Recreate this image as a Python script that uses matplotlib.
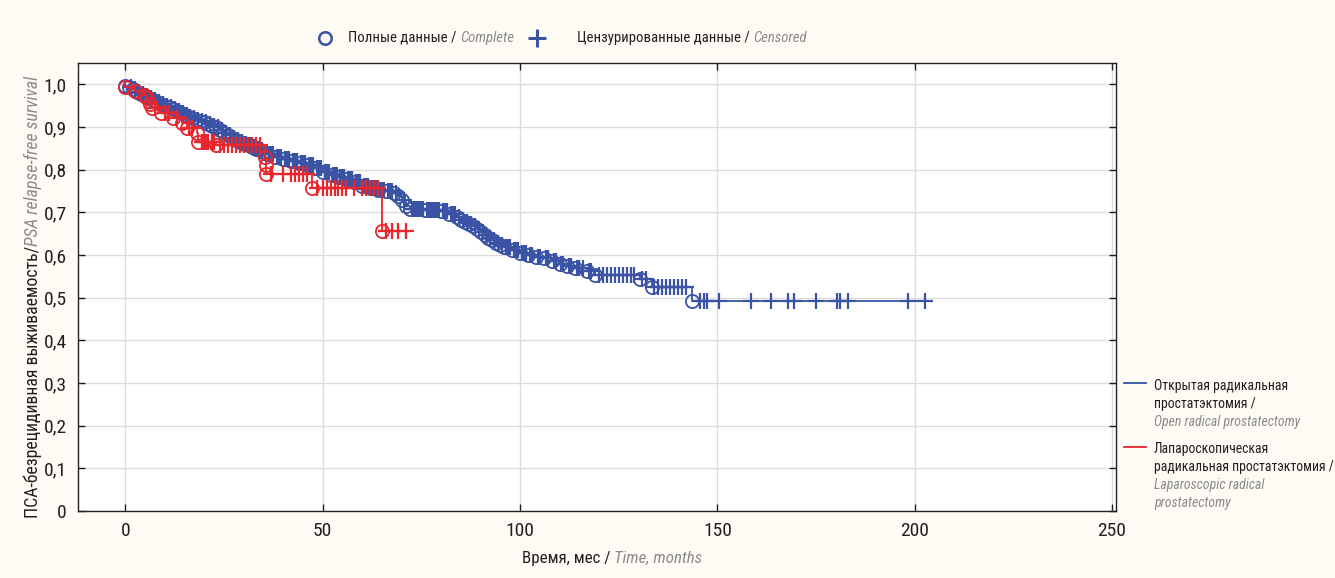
import numpy as np
import matplotlib
matplotlib.use("Agg")
import matplotlib.pyplot as plt
from matplotlib import font_manager as fm

# ---------------- data ----------------
open_event_t = [0, 1, 2, 3, 4, 5, 6, 7, 8, 9, 10, 11, 12, 13, 14, 15, 16, 17, 18, 19,
                20, 21, 22, 23, 24, 25, 26, 27, 28, 29, 30, 31, 32, 33, 34, 35, 36, 38,
                40, 42, 44, 46, 48, 50, 52, 54, 56, 58, 60, 62, 64, 66, 68, 69, 70, 71,
                72, 76, 80, 82, 84, 85, 86, 87, 88, 89, 90, 91, 92, 93, 94, 95, 96, 98,
                100, 102, 104, 106, 108, 110, 112, 114, 117, 119, 130.5, 133.5, 143.5]
open_event_s = [0.997, 0.993, 0.988, 0.983, 0.978, 0.973, 0.968, 0.963, 0.958, 0.954,
                0.950, 0.946, 0.942, 0.937, 0.932, 0.928, 0.924, 0.920, 0.917, 0.914,
                0.911, 0.907, 0.903, 0.899, 0.893, 0.887, 0.881, 0.875, 0.870, 0.865,
                0.861, 0.857, 0.853, 0.849, 0.845, 0.841, 0.836, 0.830, 0.825, 0.820,
                0.816, 0.811, 0.803, 0.795, 0.788, 0.783, 0.778, 0.770, 0.762, 0.757,
                0.752, 0.749, 0.745, 0.738, 0.728, 0.716, 0.708, 0.705, 0.702, 0.697,
                0.688, 0.682, 0.677, 0.672, 0.667, 0.661, 0.655, 0.647, 0.640, 0.634,
                0.628, 0.623, 0.618, 0.612, 0.605, 0.600, 0.596, 0.592, 0.587, 0.580,
                0.574, 0.570, 0.562, 0.553, 0.543, 0.524, 0.493]
open_censor_t = [1.5, 2.5, 3.5, 4.5, 5.5, 6.5, 7.5, 8.5, 9.5, 10.5, 11.5, 12.5, 13.5, 14.5,
                 15.5, 16.5, 17.5, 18.5, 19.5, 20.5, 21.5, 22.5, 23.5, 24.5, 25.5, 26.5,
                 27.5, 28.5, 29.5, 30.5, 31.5, 32.5, 33.5, 34.5, 35.5, 36.5, 37, 37.5,
                 38.5, 39, 39.5, 40.5, 41, 41.5, 42.5, 43, 43.5, 44.5, 45, 45.5, 46.5, 47,
                 47.5, 48.5, 49, 49.5, 50.5, 51, 51.5, 52.5, 53, 53.5, 54.5, 55, 55.5,
                 56.5, 57, 57.5, 58.5, 59, 59.5, 60.5, 61, 61.5, 62.5, 63, 63.5, 64.5, 65,
                 65.5, 66.5, 67, 67.5, 68.5, 70.5, 72.5, 73, 73.5, 74, 74.5, 75, 75.5,
                 76.5, 77, 77.5, 78, 78.5, 79, 79.5, 80.5, 81, 81.5, 82.5, 83, 83.5, 84.5,
                 85.5, 86.5, 87.5, 88.5, 89.5, 90.5, 91.5, 92.5, 93.5, 94.5, 95.5, 96.5,
                 97, 97.5, 98.5, 99, 99.5, 100.5, 101, 101.5, 102.5, 103, 104.5, 105,
                 106.5, 107, 108.5, 109, 110.5, 111, 112.5, 113, 114.5, 115, 116, 117.5,
                 118, 120, 121, 122, 123, 124, 125, 126, 127, 128, 129, 131, 132, 134,
                 135, 136, 137, 138, 139, 140, 141, 142, 145.7, 146.5, 147.3, 150.5,
                 158.6, 163.7, 168, 169.5, 175, 180.2, 181, 183, 198.4, 202.7]

lap_event_t = [0, 2.5, 4.6, 5.5, 6.3, 6.8, 9, 12, 14.4, 15.7, 18.2, 18.5, 23, 35.5, 35.6,
               35.7, 47.4, 65]
lap_event_s = [0.993, 0.985, 0.975, 0.967, 0.955, 0.945, 0.933, 0.922, 0.909, 0.897,
               0.885, 0.866, 0.857, 0.830, 0.810, 0.790, 0.758, 0.657]
lap_censor_t = [7.5, 10, 11, 13, 16, 17, 19.5, 20, 20.5, 21, 22, 22.5, 24, 25, 26, 27, 28,
                29, 30, 31, 32, 33, 34, 37, 40, 42, 43, 44, 45, 46, 48.5, 50, 51, 52, 53,
                54, 55, 56, 58, 60, 61, 62, 63, 64, 66, 67.5, 69, 71]

x_ticks = [0, 50, 100, 150, 200, 250]
y_ticks = [0, 0.1, 0.2, 0.3, 0.4, 0.5, 0.6, 0.7, 0.8, 0.9, 1.0]
y_tick_labels = ["0", "0,1", "0,2", "0,3", "0,4", "0,5", "0,6", "0,7", "0,8", "0,9", "1,0"]

BLUE = "#3a53a4"
RED = "#e8262d"
DARK = "#231f20"
GRAY = "#8a8a8a"
BG = "#fdfbf4"

# ---------------- font ----------------
names = {f.name for f in fm.fontManager.ttflist}
base = None
for cand in ["Liberation Sans Narrow", "Roboto Condensed", "Open Sans Condensed", "Roboto"]:
    if cand in names:
        base = cand
        break
fam = [base, "DejaVu Sans"] if base else ["DejaVu Sans"]
plt.rcParams["font.family"] = fam

W, H = 1335, 578
fig = plt.figure(figsize=(W / 100, H / 100), dpi=100, facecolor=BG)
ax = fig.add_axes([78 / W, 1 - 511 / H, (1116 - 78) / W, (511 - 63) / H])
ax.set_facecolor("white")


def km_curve(ev_t, ev_s, end_t):
    t = np.concatenate([[0.0], np.asarray(ev_t, float), [end_t]])
    s = np.concatenate([[1.0], np.asarray(ev_s, float), [ev_s[-1]]])
    return t, s


def surv_at(ev_t, ev_s, times):
    ev_t = np.asarray(ev_t, float)
    full = np.concatenate([[1.0], np.asarray(ev_s, float)])
    idx = np.searchsorted(ev_t, np.asarray(times, float), side="right")
    return full[idx]


for ev_t, ev_s, cen_t, col, z in [(open_event_t, open_event_s, open_censor_t, BLUE, 3),
                                  (lap_event_t, lap_event_s, lap_censor_t, RED, 5)]:
    t, s = km_curve(ev_t, ev_s, max(cen_t))
    ax.step(t, s, where="post", color=col, lw=1.3, zorder=z)
    ax.plot(ev_t, ev_s, ls="none", marker="o", ms=9.5, mfc="none", mec=col, mew=1.3, zorder=z)
    ax.plot(cen_t, surv_at(ev_t, ev_s, cen_t), ls="none", marker="+", ms=11, mec=col,
            mew=1.6, zorder=z)

ax.set_xlim(-12, 251)
ax.set_ylim(0, 1.05)
ax.set_xticks(x_ticks)
ax.set_yticks(y_ticks)
ax.set_yticklabels(y_tick_labels)
ax.grid(True, color="#dcdcdc", lw=1.0, zorder=0)
ax.set_axisbelow(True)
ax.tick_params(direction="in", length=5, width=1, top=True, right=True,
               labelsize=14, colors=DARK, pad=8)
for sp in ax.spines.values():
    sp.set_linewidth(1.0)
    sp.set_color("#222222")

# ---------------- overlay for texts ----------------
ov = fig.add_axes([0, 0, 1, 1], facecolor="none")
ov.set_xlim(0, W)
ov.set_ylim(0, H)
ov.axis("off")
fig.canvas.draw()
r = fig.canvas.get_renderer()


def st(size, italic=False):
    if italic:
        return dict(color=GRAY, fontsize=size, style="italic")
    return dict(color=DARK, fontsize=size)


def rich(x, py, parts, ha="left"):
    texts = []
    widths = []
    for s, sty in parts:
        tt = ov.text(0, H - py, s, va="center", ha="left", **sty)
        widths.append(tt.get_window_extent(r).width)
        texts.append(tt)
    total = sum(widths)
    if ha == "center":
        x = x - total / 2
    cx = x
    for tt, w in zip(texts, widths):
        tt.set_x(cx)
        cx += w


def rich_vertical(px, py_center, parts):
    texts = []
    hs = []
    for s, sty in parts:
        tt = ov.text(px, 0, s, rotation=90, ha="center", va="bottom", **sty)
        hs.append(tt.get_window_extent(r).height)
        texts.append(tt)
    total = sum(hs)
    y = (H - py_center) - total / 2
    for tt, h in zip(texts, hs):
        tt.set_y(y)
        y += h


# top legend
LS = 10.6
ov.plot([325], [H - 38], marker="o", ms=9, mfc="none", mec=BLUE, mew=1.8, ls="none")
rich(348, 38, [("Полные данные / ", st(LS)), ("Complete", st(LS, True))])
ov.plot([537], [H - 38], marker="+", ms=13, mec=BLUE, mew=2.2, ls="none")
rich(577, 38, [("Цензурированные данные / ", st(LS)), ("Censored", st(LS, True))])

# axis labels
rich(612, 558, [("Время, мес / ", st(12.2)), ("Time, months", st(12.2, True))], ha="center")
rich_vertical(33, 297, [("ПСА-безрецидивная выживаемость/", st(12.8)),
                        ("PSA relapse-free survival", st(12.8, True))])

# right legend
RS = 9.9
LX = 1154
ov.plot([1124, 1146], [H - 383, H - 383], color=BLUE, lw=1.3)
ov.text(LX, H - 386, "Открытая радикальная", va="center", **st(RS))
ov.text(LX, H - 404, "простатэктомия /", va="center", **st(RS))
ov.text(LX, H - 422, "Open radical prostatectomy", va="center", **st(RS, True))
ov.plot([1124, 1146], [H - 447, H - 447], color=RED, lw=1.3)
ov.text(LX, H - 449, "Лапароскопическая", va="center", **st(RS))
ov.text(LX, H - 467, "радикальная простатэктомия /", va="center", **st(RS))
ov.text(LX, H - 485, "Laparoscopic radical", va="center", **st(RS, True))
ov.text(LX, H - 503, "prostatectomy", va="center", **st(RS, True))

fig.savefig("out.png", dpi=100, facecolor=BG)
